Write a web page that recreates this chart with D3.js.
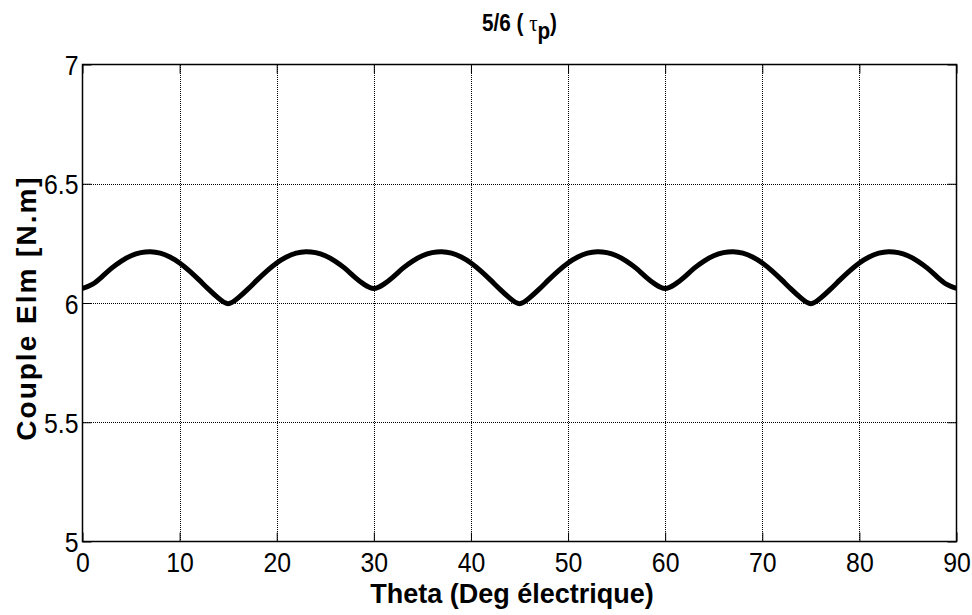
<!DOCTYPE html>
<html>
<head>
<meta charset="utf-8">
<script src="https://cdn.jsdelivr.net/npm/d3@7"></script>
<style>
  body { margin: 0; background: #fff; }
  svg { display: block; }
  text { font-family: "Liberation Sans", Arial, Helvetica, sans-serif; fill: #000; }
</style>
</head>
<body>
<svg id="chart" width="972" height="615"></svg>
<script>
// Electromagnetic torque vs. rotor angle, one sample per electrical degree
const thetaDeg = [
  0, 1, 2, 3, 4, 5, 6, 7, 8, 9, 10, 11, 12, 13, 14, 15, 16, 17, 18, 19, 20, 21, 22, 23, 24, 25, 26, 27, 28, 29,
  30, 31, 32, 33, 34, 35, 36, 37, 38, 39, 40, 41, 42, 43, 44, 45, 46, 47, 48, 49, 50, 51, 52, 53, 54, 55, 56, 57, 58, 59,
  60, 61, 62, 63, 64, 65, 66, 67, 68, 69, 70, 71, 72, 73, 74, 75, 76, 77, 78, 79, 80, 81, 82, 83, 84, 85, 86, 87, 88, 89,
  90
];
const coupleNm = [
  6.061, 6.078, 6.110, 6.146, 6.176, 6.198, 6.211, 6.215, 6.209, 6.193, 6.168, 6.135, 6.097, 6.057, 6.020,
  5.997, 6.020, 6.057, 6.097, 6.135, 6.168, 6.193, 6.209, 6.215, 6.211, 6.198, 6.176, 6.146, 6.110, 6.078,
  6.061, 6.078, 6.110, 6.146, 6.176, 6.198, 6.211, 6.215, 6.209, 6.193, 6.168, 6.135, 6.097, 6.057, 6.020,
  5.997, 6.020, 6.057, 6.097, 6.135, 6.168, 6.193, 6.209, 6.215, 6.211, 6.198, 6.176, 6.146, 6.110, 6.078,
  6.061, 6.078, 6.110, 6.146, 6.176, 6.198, 6.211, 6.215, 6.209, 6.193, 6.168, 6.135, 6.097, 6.057, 6.020,
  5.997, 6.020, 6.057, 6.097, 6.135, 6.168, 6.193, 6.209, 6.215, 6.211, 6.198, 6.176, 6.146, 6.110, 6.078,
  6.061
];
const xTicks = [0, 10, 20, 30, 40, 50, 60, 70, 80, 90];
const xTickLabels = ["0", "10", "20", "30", "40", "50", "60", "70", "80", "90"];
const yTicks = [5, 5.5, 6, 6.5, 7];
const yTickLabels = ["5", "5.5", "6", "6.5", "7"];
const xDomain = [0, 90];
const yDomain = [5, 7];

const svg = d3.select("#chart");
const plot = { left: 82.5, right: 956.5, top: 64.5, bottom: 541.5 };

const x = d3.scaleLinear().domain(xDomain).range([plot.left, plot.right]);
const y = d3.scaleLinear().domain(yDomain).range([plot.bottom, plot.top]);

// Dotted grid
const grid = svg.append("g")
  .attr("stroke", "#000")
  .attr("stroke-width", 1)
  .attr("stroke-dasharray", "1,1")
  .attr("shape-rendering", "crispEdges");
grid.selectAll("line.gx")
  .data(xTicks.filter(t => t > xDomain[0] && t < xDomain[1]))
  .join("line")
  .attr("x1", d => Math.round(x(d)) + 0.5).attr("x2", d => Math.round(x(d)) + 0.5)
  .attr("y1", plot.top).attr("y2", plot.bottom);
grid.selectAll("line.gy")
  .data(yTicks.filter(t => t > yDomain[0] && t < yDomain[1]))
  .join("line")
  .attr("y1", d => Math.round(y(d)) + 0.5).attr("y2", d => Math.round(y(d)) + 0.5)
  .attr("x1", plot.left).attr("x2", plot.right);

// Axes with inward ticks on all four sides, labels on bottom and left
const tickLen = 9;
const axisBottom = d3.axisBottom(x).tickValues(xTicks).tickSizeInner(-tickLen).tickSizeOuter(0)
  .tickFormat((d, i) => xTickLabels[i]);
const axisTop = d3.axisTop(x).tickValues(xTicks).tickSizeInner(-tickLen).tickSizeOuter(0).tickFormat("");
const axisLeft = d3.axisLeft(y).tickValues(yTicks).tickSizeInner(-tickLen).tickSizeOuter(0)
  .tickFormat((d, i) => yTickLabels[i]);
const axisRight = d3.axisRight(y).tickValues(yTicks).tickSizeInner(-tickLen).tickSizeOuter(0).tickFormat("");

function styleAxis(g) {
  g.select(".domain").remove();
  g.selectAll(".tick line").attr("stroke", "#000").attr("stroke-width", 1);
  g.selectAll(".tick text")
    .attr("font-family", "'Liberation Sans', Arial, sans-serif")
    .attr("font-size", 27)
    .attr("fill", "#000");
}

// Tick labels are slightly condensed, drawn via a horizontal scale about their anchor
svg.append("g").attr("transform", `translate(0,${plot.bottom})`).call(axisBottom).call(styleAxis)
  .selectAll(".tick text")
  .attr("x", null).attr("y", null).attr("dy", null)
  .attr("transform", "translate(0,30) scale(0.92,1)");
svg.append("g").attr("transform", `translate(0,${plot.top})`).call(axisTop).call(styleAxis);
svg.append("g").attr("transform", `translate(${plot.left},0)`).call(axisLeft).call(styleAxis)
  .selectAll(".tick text")
  .attr("x", null).attr("dy", null)
  .attr("transform", "translate(-4,10) scale(0.92,1)");
svg.append("g").attr("transform", `translate(${plot.right},0)`).call(axisRight).call(styleAxis);

// Frame
svg.append("rect")
  .attr("x", plot.left).attr("y", plot.top)
  .attr("width", plot.right - plot.left).attr("height", plot.bottom - plot.top)
  .attr("fill", "none").attr("stroke", "#000").attr("stroke-width", 1.5);

// Torque curve
const clipId = "plot-clip";
svg.append("clipPath").attr("id", clipId).append("rect")
  .attr("x", plot.left).attr("y", plot.top)
  .attr("width", plot.right - plot.left).attr("height", plot.bottom - plot.top);

const line = d3.line()
  .x((d, i) => x(thetaDeg[i]))
  .y(d => y(d))
  .curve(d3.curveNatural);

svg.append("path")
  .datum(coupleNm)
  .attr("clip-path", `url(#${clipId})`)
  .attr("fill", "none")
  .attr("stroke", "#000")
  .attr("stroke-width", 5)
  .attr("stroke-linejoin", "round")
  .attr("stroke-linecap", "butt")
  .attr("d", line);

// Title
const title = svg.append("text")
  .attr("text-anchor", "middle")
  .attr("transform", `translate(${(plot.left + plot.right) / 2},31) scale(0.9,1)`)
  .attr("font-size", 23)
  .attr("font-weight", "bold");
title.append("tspan").text("5/6 ( ");
title.append("tspan").attr("font-family", "'Liberation Serif', 'Times New Roman', serif")
  .attr("font-weight", "normal").attr("font-size", 23).text("τ");
title.append("tspan").attr("dy", 8).text("p");
title.append("tspan").attr("dy", -8).text(")");

// Axis labels
svg.append("text")
  .attr("x", 512)
  .attr("y", 603)
  .attr("text-anchor", "middle")
  .attr("font-size", 27)
  .attr("font-weight", "bold")
  .text("Theta (Deg électrique)");

svg.append("text")
  .attr("transform", "translate(36,308) rotate(-90)")
  .attr("text-anchor", "middle")
  .attr("font-size", 28)
  .attr("font-weight", "bold")
  .attr("letter-spacing", 2)
  .text("Couple Elm [N.m]");
</script>
</body>
</html>
